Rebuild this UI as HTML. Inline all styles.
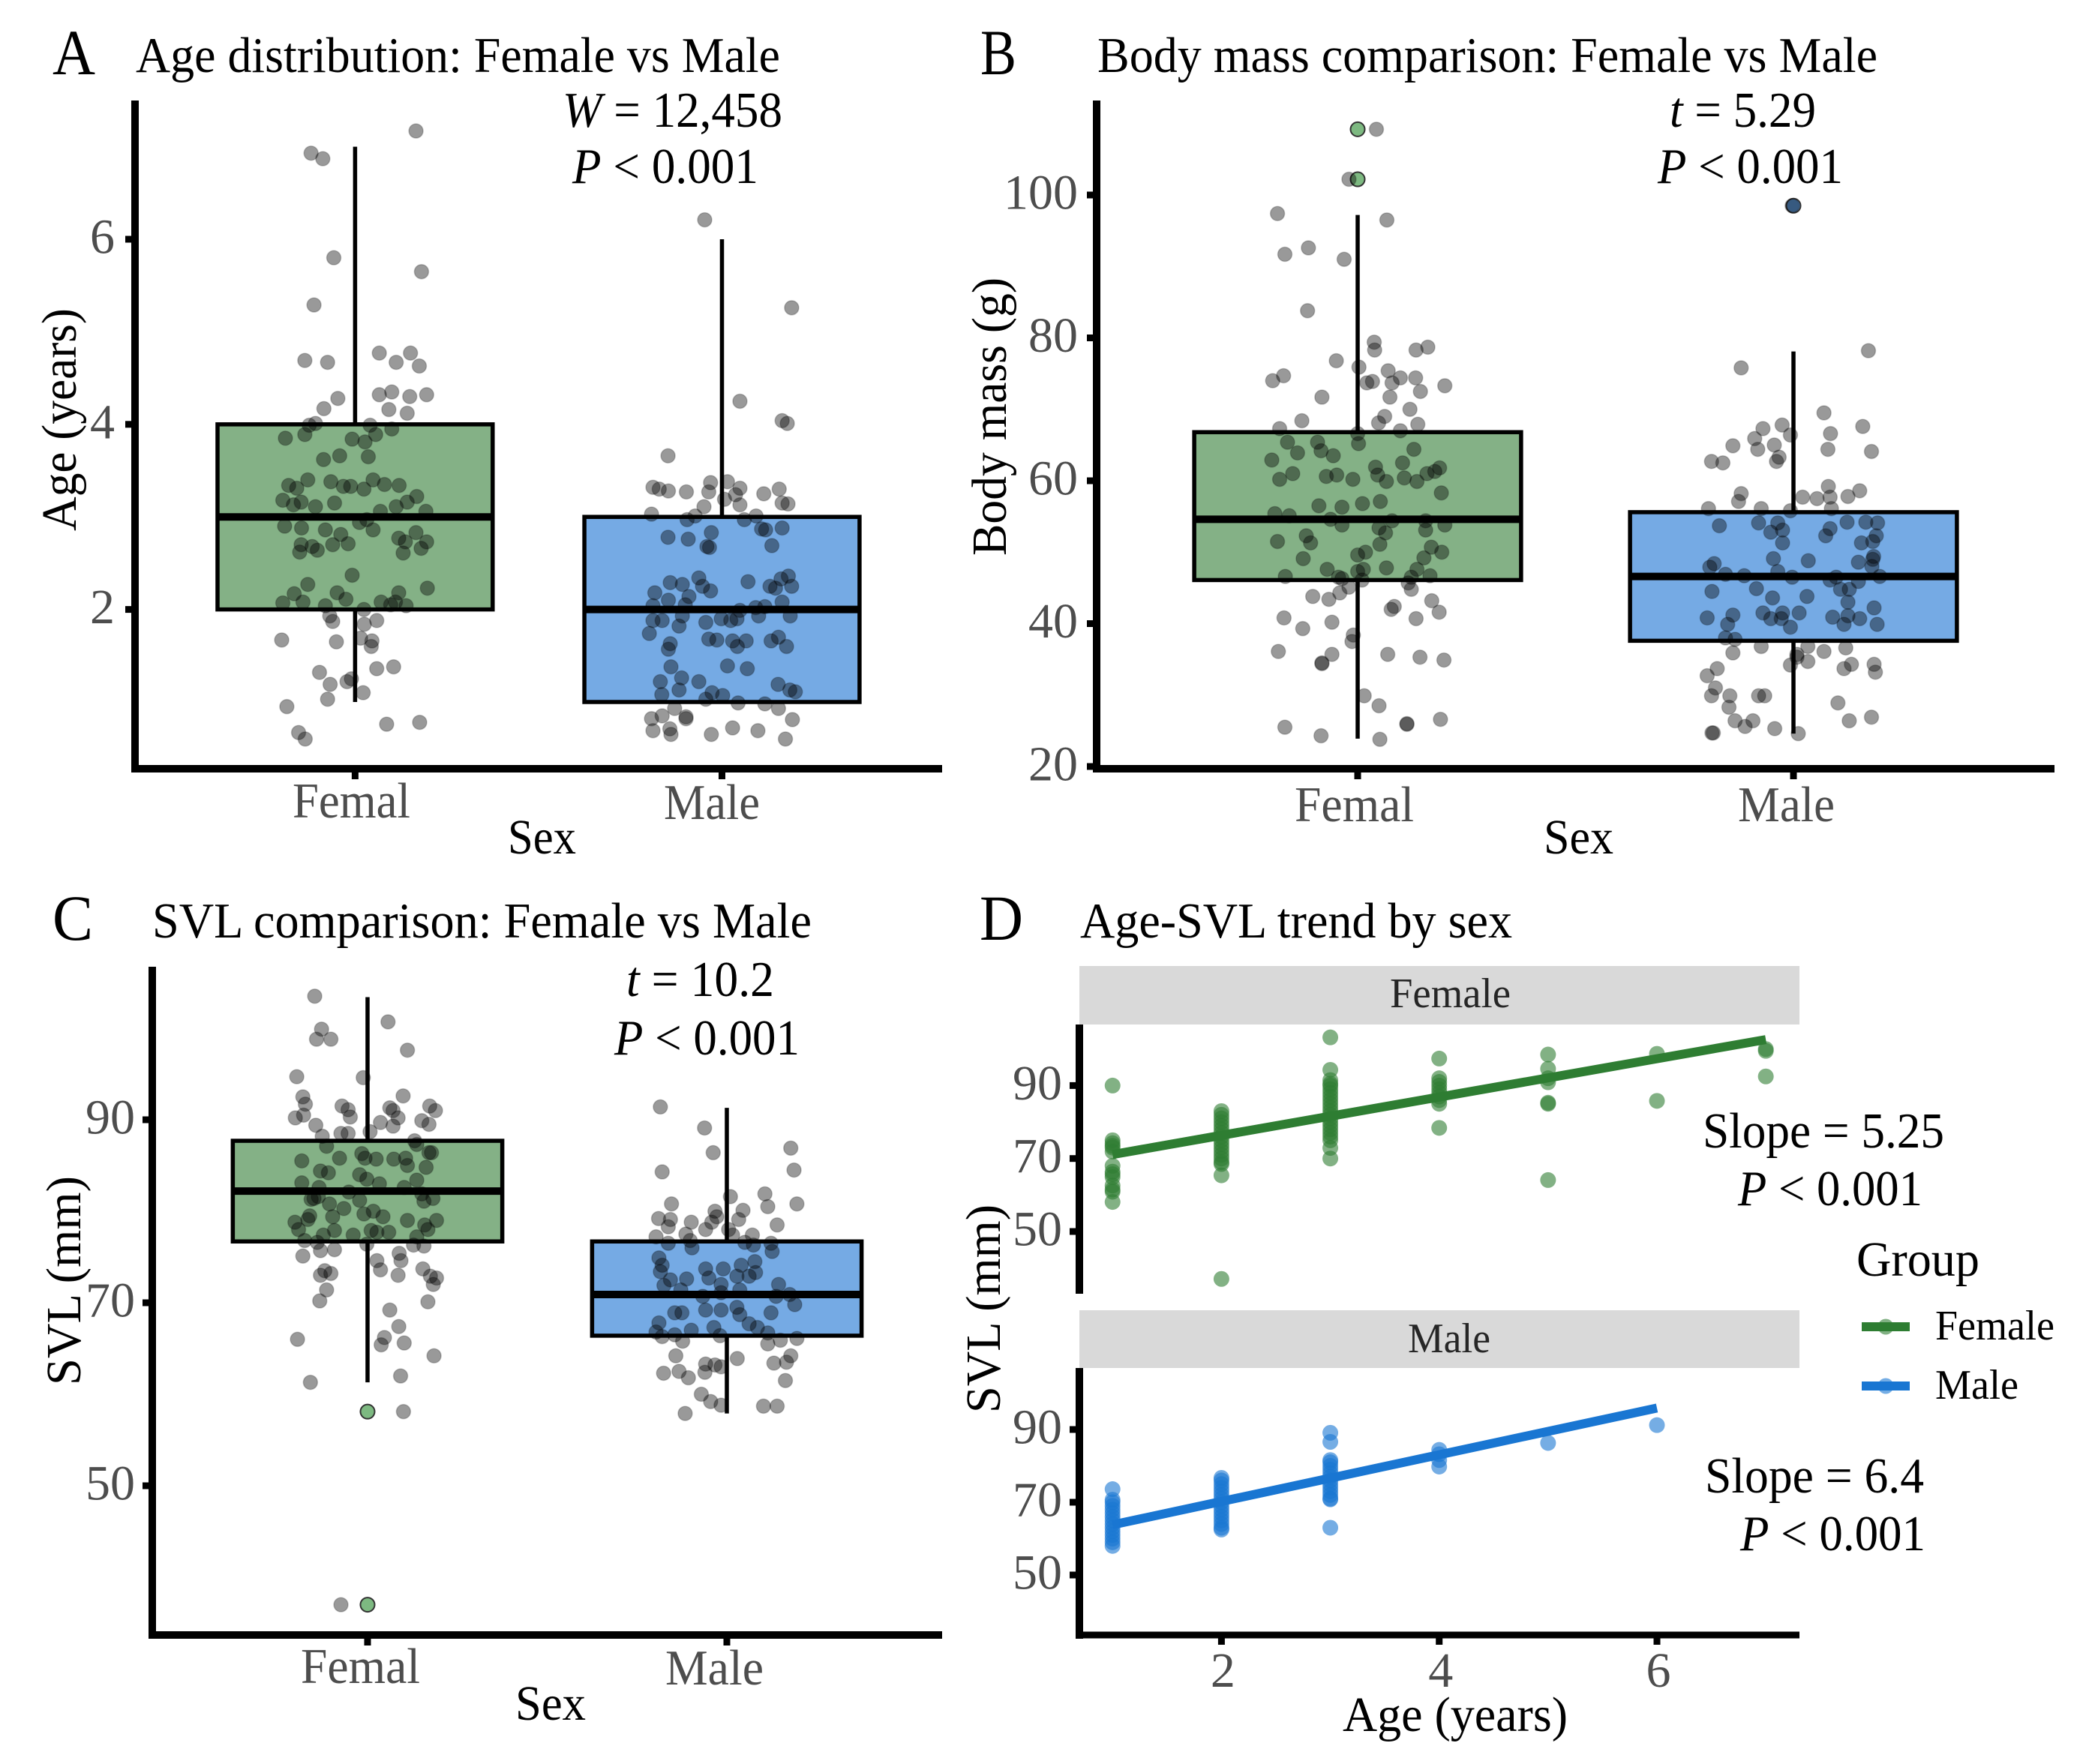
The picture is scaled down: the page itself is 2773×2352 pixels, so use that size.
<!DOCTYPE html>
<html lang="en">
<head>
<meta charset="utf-8">
<title>Sex comparisons: age, body mass and SVL</title>
<style>
html,body{margin:0;padding:0;background:#fff}
svg{display:block;font-family:"Liberation Serif","DejaVu Serif",serif}
.title{font-size:67px;fill:#000}
.tag{font-size:86px;fill:#000}
.stat{font-size:67px;fill:#000}
.cat{font-size:67px;fill:#4d4d4d}
.axt{font-size:66px;fill:#000}
.strip{font-size:56px;fill:#262626}
.leg{font-size:56px;fill:#000}
.tick{font-size:66px;fill:#4d4d4d}
</style>
</head>
<body>
<svg id="fig" xmlns="http://www.w3.org/2000/svg" width="2773" height="2352" viewBox="0 0 2773 2352">
<rect width="2773" height="2352" fill="#fff"/>

<g id="panelA"></g>
<g id="panelB"></g>
<g id="panelC"></g>
<g id="panelD"></g>

<!-- Panel A text -->
<text class="tag" x="70" y="99" textLength="57" lengthAdjust="spacingAndGlyphs">A</text>
<text class="title" x="181" y="96" textLength="859" lengthAdjust="spacingAndGlyphs">Age distribution: Female vs Male</text>
<text class="stat" x="750" y="169" textLength="293" lengthAdjust="spacingAndGlyphs"><tspan font-style="italic">W</tspan> = 12,458</text>
<text class="stat" x="763" y="244" textLength="248" lengthAdjust="spacingAndGlyphs"><tspan font-style="italic">P</tspan> &lt; 0.001</text>
<text class="cat" x="390" y="1090" textLength="157" lengthAdjust="spacingAndGlyphs">Femal</text>
<text class="cat" x="885" y="1092" textLength="128" lengthAdjust="spacingAndGlyphs">Male</text>
<text class="axt" x="677" y="1138" textLength="91" lengthAdjust="spacingAndGlyphs">Sex</text>
<text class="axt" transform="translate(101,708) rotate(-90)" textLength="297" lengthAdjust="spacingAndGlyphs">Age (years)</text>

<!-- Panel B text -->
<text class="tag" x="1307" y="99" textLength="48" lengthAdjust="spacingAndGlyphs">B</text>
<text class="title" x="1463" y="96" textLength="1040" lengthAdjust="spacingAndGlyphs">Body mass comparison: Female vs Male</text>
<text class="stat" x="2226" y="169" textLength="195" lengthAdjust="spacingAndGlyphs"><tspan font-style="italic">t</tspan> = 5.29</text>
<text class="stat" x="2210" y="244" textLength="247" lengthAdjust="spacingAndGlyphs"><tspan font-style="italic">P</tspan> &lt; 0.001</text>
<text class="cat" x="1726" y="1095" textLength="159" lengthAdjust="spacingAndGlyphs">Femal</text>
<text class="cat" x="2317" y="1095" textLength="129" lengthAdjust="spacingAndGlyphs">Male</text>
<text class="axt" x="2058" y="1138" textLength="93" lengthAdjust="spacingAndGlyphs">Sex</text>
<text class="axt" transform="translate(1341,741) rotate(-90)" textLength="371" lengthAdjust="spacingAndGlyphs">Body mass (g)</text>

<!-- Panel C text -->
<text class="tag" x="70" y="1253" textLength="54" lengthAdjust="spacingAndGlyphs">C</text>
<text class="title" x="203" y="1250" textLength="879" lengthAdjust="spacingAndGlyphs">SVL comparison: Female vs Male</text>
<text class="stat" x="835" y="1328" textLength="197" lengthAdjust="spacingAndGlyphs"><tspan font-style="italic">t</tspan> = 10.2</text>
<text class="stat" x="819" y="1406" textLength="247" lengthAdjust="spacingAndGlyphs"><tspan font-style="italic">P</tspan> &lt; 0.001</text>
<text class="cat" x="401" y="2244" textLength="159" lengthAdjust="spacingAndGlyphs">Femal</text>
<text class="cat" x="887" y="2246" textLength="131" lengthAdjust="spacingAndGlyphs">Male</text>
<text class="axt" x="687" y="2293" textLength="94" lengthAdjust="spacingAndGlyphs">Sex</text>
<text class="axt" transform="translate(107,1847) rotate(-90)" textLength="279" lengthAdjust="spacingAndGlyphs">SVL (mm)</text>

<!-- Panel D text -->
<text class="tag" x="1306" y="1253" textLength="58" lengthAdjust="spacingAndGlyphs">D</text>
<text class="title" x="1440" y="1250" textLength="576" lengthAdjust="spacingAndGlyphs">Age-SVL trend by sex</text>
<rect x="1439" y="1288" width="960" height="78" fill="#d9d9d9"/>
<rect x="1439" y="1747" width="960" height="77" fill="#d9d9d9"/>
<text class="strip" x="1853" y="1343" textLength="161" lengthAdjust="spacingAndGlyphs">Female</text>
<text class="strip" x="1877" y="1803" textLength="110" lengthAdjust="spacingAndGlyphs">Male</text>
<text class="stat" x="2270" y="1530" textLength="322" lengthAdjust="spacingAndGlyphs">Slope = 5.25</text>
<text class="stat" x="2317" y="1607" textLength="246" lengthAdjust="spacingAndGlyphs"><tspan font-style="italic">P</tspan> &lt; 0.001</text>
<text class="stat" x="2273" y="1990" textLength="292" lengthAdjust="spacingAndGlyphs">Slope = 6.4</text>
<text class="stat" x="2320" y="2067" textLength="247" lengthAdjust="spacingAndGlyphs"><tspan font-style="italic">P</tspan> &lt; 0.001</text>
<text class="axt" x="1790" y="2308" textLength="300" lengthAdjust="spacingAndGlyphs">Age (years)</text>
<text class="axt" transform="translate(1333,1884) rotate(-90)" textLength="278" lengthAdjust="spacingAndGlyphs">SVL (mm)</text>

<!-- Legend -->
<g>
  <text class="axt" x="2475" y="1701" textLength="164" lengthAdjust="spacingAndGlyphs">Group</text>
  <line x1="2482" y1="1769" x2="2546" y2="1769" stroke="#2e7d32" stroke-width="12"/>
  <circle cx="2514" cy="1769" r="10.5" fill="#2e7d32" fill-opacity="0.6"/>
  <text class="leg" x="2580" y="1786" textLength="159" lengthAdjust="spacingAndGlyphs">Female</text>
  <line x1="2482" y1="1848" x2="2546" y2="1848" stroke="#1976d2" stroke-width="12"/>
  <circle cx="2514" cy="1848" r="10.5" fill="#1976d2" fill-opacity="0.6"/>
  <text class="leg" x="2580" y="1865" textLength="111" lengthAdjust="spacingAndGlyphs">Male</text>
</g>
</svg>

<script>
// ===== Panel A data: age (years) =====
const ageTicks = [2, 4, 6];
const ageQ1 = [2, 1];
const ageMedian = [3, 2];
const ageQ3 = [4, 3];
const ageWhiskerLow = [1, 1];
const ageWhiskerHigh = [7, 6];
const ageFemaleValues = [6.93,6.87,7.17,5.80,5.65,5.29,4.69,4.67,4.77,4.77,4.67,4.63,4.28,4.32,4.35,4.30,4.32,4.17,4.16,4.12,3.99,4.01,3.99,3.95,3.85,3.89,3.84,3.81,3.89,3.62,3.66,3.65,3.40,3.38,3.34,3.31,3.33,3.33,3.40,3.35,3.34,3.30,3.22,3.18,3.13,3.16,3.11,3.15,3.16,3.11,3.06,3.06,2.97,2.94,2.86,2.90,2.88,2.86,2.81,2.77,2.83,2.73,2.73,2.70,2.68,2.70,2.71,2.62,2.64,2.61,2.66,2.37,2.27,2.17,2.18,2.11,2.23,2.18,2.08,2.08,2.07,2.08,2.04,2.05,2.04,2.00,1.93,1.87,1.88,1.84,1.67,1.65,1.69,1.66,1.60,1.32,1.36,1.38,1.19,1.22,1.25,1.10,1.03,0.95,0.67,0.60,0.76,0.78];
const ageFemaleJitter = [-120,-88,166,-58,181,-112,-137,-75,66,151,112,175,-47,66,100,149,195,-85,92,142,-125,-108,41,100,-190,-137,-8,27,56,-86,-42,36,-129,-66,-181,-159,-32,-12,49,80,120,24,168,-197,-168,-147,-108,-56,142,112,69,193,32,12,49,-192,-146,-81,-39,119,166,137,195,-147,-117,-61,-19,-151,-103,131,180,-8,-129,-166,-49,-25,197,119,71,110,-197,-142,139,97,-81,24,-69,-61,59,25,-200,-51,15,46,44,-97,59,105,-68,-22,-10,22,-75,-186,-154,-136,86,176];
const ageMaleValues = [6.21,5.26,4.25,4.04,4.01,3.66,3.32,3.30,3.28,3.27,3.37,3.38,3.31,3.30,3.25,3.27,3.24,3.19,3.13,3.11,3.15,3.14,3.03,2.97,3.01,2.97,3.01,2.87,2.86,2.88,2.83,2.78,2.76,2.68,2.67,2.69,2.36,2.33,2.25,2.25,2.23,2.30,2.34,2.29,2.27,2.25,2.20,2.18,2.14,2.10,2.04,2.05,2.08,2.03,2.02,1.99,1.88,1.88,1.93,1.82,1.86,1.90,1.88,1.90,1.93,1.93,1.74,1.68,1.67,1.66,1.60,1.66,1.66,1.70,1.60,1.63,1.57,1.39,1.36,1.38,1.26,1.22,1.22,1.13,1.08,1.03,1.10,1.07,1.19,1.13,1.11,0.99,0.98,0.93,0.93,0.82,0.85,0.84,0.82,0.81,0.69,0.71,0.65,0.65,0.72,0.69,0.60];
const ageMaleJitter = [-47,190,49,164,178,-147,-188,-171,-146,-97,-31,15,49,156,114,-36,37,7,49,-49,164,180,-192,-95,-73,61,93,108,119,164,-29,-147,-92,-41,-34,136,181,161,190,131,146,71,-63,-141,-108,-53,-31,-183,-90,-146,-188,-100,164,117,92,49,-188,-163,-108,-117,-44,-2,24,41,100,186,-198,-36,-14,29,42,66,134,154,176,-141,-146,15,69,-139,-110,-168,-63,-117,-164,-44,-27,2,153,185,200,44,117,154,-129,-192,-163,-98,-98,192,-188,-142,-139,-29,29,98,173];

// ===== Panel B data: body mass (g) =====
const massTicks = [20, 40, 60, 80, 100];
const massQ1 = [46.1, 37.6];
const massMedian = [54.6, 46.6];
const massQ3 = [66.8, 55.6];
const massWhiskerLow = [23.9, 24.6];
const massWhiskerHigh = [97.2, 78.1];
const massOutlierCategory = [1, 1, 2];
const massOutlierValues = [109.2, 102.2, 98.5];
const massFemaleValues = [109.2,102.2,97.4,96.5,91.7,92.6,91.0,83.8,79.4,78.3,78.3,78.7,76.8,75.9,75.4,74.7,74.0,74.4,74.4,73.7,73.9,73.7,73.3,72.5,71.7,71.7,70.0,69.0,68.4,68.1,67.3,67.9,66.6,67.0,65.4,65.4,65.2,64.2,64.4,63.9,63.5,62.9,62.5,61.9,61.8,61.0,60.2,60.6,60.8,60.8,60.4,61.0,61.3,60.2,59.9,59.9,58.3,56.5,56.3,56.8,57.1,55.4,55.1,54.6,53.8,54.4,54.4,53.8,53.1,53.4,52.7,52.3,51.5,51.3,51.1,50.7,50.0,49.6,50.0,49.1,49.2,47.6,47.8,47.6,47.3,47.6,46.6,46.7,46.5,46.3,46.1,46.5,45.7,45.1,44.8,43.8,43.4,44.3,43.2,42.4,42.0,41.6,40.8,40.2,40.7,39.3,38.4,37.5,36.1,35.7,35.7,35.3,34.9,34.5,34.4,29.9,28.5,25.5,24.3,23.8,26.0,25.9,26.6];
const massFemaleJitter = [43,-20,-184,67,-167,-113,-31,-115,38,39,134,161,-49,3,70,-170,-195,98,133,21,34,79,200,144,-82,74,120,62,-128,48,-179,138,0,98,-161,-92,2,-84,129,-138,-56,-197,103,41,188,-149,-179,-72,-48,46,107,159,177,-11,66,136,192,-89,-36,11,52,-190,-157,-62,-36,79,156,200,156,49,64,-118,-184,-108,51,169,193,0,18,-125,152,-70,66,13,0,136,-166,166,-44,-36,10,123,116,-20,123,-103,-66,-41,170,84,77,187,-169,-59,134,-126,-10,-13,-182,-59,69,143,198,-82,-82,15,49,-167,-84,51,113,113,190];
const massMaleValues = [98.5,75.8,78.2,69.5,67.6,67.8,67.3,66.4,66.6,65.9,65.0,64.9,64.4,64.4,64.1,63.3,62.7,62.7,62.5,59.2,58.6,58.2,57.7,57.5,57.7,57.8,57.1,56.1,56.1,55.8,56.1,54.1,54.1,54.2,54.2,54.1,53.7,52.8,53.1,53.3,52.3,52.3,51.3,51.3,51.5,49.4,49.0,49.1,48.8,48.6,47.9,48.4,48.0,46.9,46.7,47.3,46.5,46.6,46.1,46.5,45.9,44.9,44.8,44.8,44.5,43.8,43.6,43.0,41.2,41.5,41.5,41.5,42.2,40.8,40.7,40.7,40.9,41.1,40.7,39.9,39.9,39.9,39.5,38.0,37.8,36.8,36.8,36.6,35.9,35.7,36.1,35.3,34.7,34.2,33.7,34.3,34.3,33.2,33.7,32.7,31.0,29.9,29.9,29.9,29.9,28.3,28.9,26.4,26.4,25.6,26.4,26.9,25.3,24.7,24.7,24.6];
const massMaleJitter = [-3,-120,172,70,159,-26,-70,-7,85,-89,-44,-139,-82,79,179,-33,-39,-188,-162,80,152,-120,21,54,84,125,-126,-74,-195,-7,87,-80,-36,123,166,193,-170,-52,-25,84,74,190,156,-25,182,184,182,-46,34,149,-192,-182,180,-156,-113,-36,-3,198,84,98,149,-85,128,108,-187,31,-48,125,-139,-70,-25,13,185,-198,-52,-28,90,125,152,-151,116,192,-7,-156,-134,-74,33,120,-139,8,70,8,33,-7,116,133,185,188,-175,-198,-179,-188,-146,-80,-66,-148,102,-134,-93,-111,128,179,-43,-187,-184,11];

// ===== Panel C data: SVL (mm) =====
const svlTicks = [50, 70, 90];
const svlQ1 = [76.7, 66.4];
const svlMedian = [82.2, 70.9];
const svlQ3 = [87.7, 76.7];
const svlWhiskerLow = [61.3, 57.9];
const svlWhiskerHigh = [103.4, 91.3];
const svlOutlierCategory = [1, 1];
const svlOutlierValues = [58.1, 37.0];
const svlFemaleValues = [103.5,99.9,98.8,98.8,100.7,97.6,94.6,94.7,92.5,91.7,92.6,91.5,91.1,91.3,91.0,91.5,91.0,90.2,90.5,90.3,90.2,89.7,89.3,89.9,89.5,89.4,88.7,88.2,88.5,88.5,87.7,87.1,87.3,85.5,85.8,86.3,85.8,85.7,85.7,85.8,86.4,86.4,85.0,84.8,84.4,84.2,84.0,83.5,83.0,83.1,82.6,83.4,82.6,82.1,81.6,81.4,81.3,81.2,81.9,81.4,81.1,80.8,80.3,80.0,79.5,79.7,79.4,79.4,78.8,79.1,79.0,78.5,79.0,78.0,77.9,77.9,77.7,77.7,78.0,77.4,77.4,77.2,76.8,76.6,76.4,76.3,76.2,75.7,75.8,75.4,74.6,75.1,74.6,73.6,73.5,73.2,73.0,73.7,73.0,72.9,72.7,72.0,71.4,70.2,70.1,69.2,67.4,66.0,66.2,65.4,65.6,64.2,61.3,62.0,58.1,37.0];
const svlFemaleJitter = [-147,-128,-142,-102,57,111,-12,-197,-180,-173,99,-71,-54,62,71,173,189,-201,-178,-48,85,36,71,151,171,-144,7,-126,-74,-54,131,-114,137,-183,-78,-16,-7,24,73,106,171,178,111,163,-131,-109,-22,-2,33,-183,102,137,-135,-52,-137,-149,-157,-22,151,182,157,-106,-66,16,-161,-10,43,-97,-202,-166,111,159,192,-192,-92,10,26,59,168,-123,-40,137,-175,-140,-2,128,157,-131,-92,88,93,-180,26,36,-119,-102,-131,154,85,175,192,183,-114,-133,168,62,87,-195,47,38,102,185,-159,92,100,-74];
const svlMaleValues = [91.4,89.1,86.4,86.9,84.3,84.5,81.6,81.9,80.8,80.8,80.0,80.1,80.5,79.2,79.1,79.4,79.1,78.8,78.8,78.3,78.0,78.5,78.0,77.2,77.5,77.4,77.4,76.5,76.8,76.0,76.6,76.3,76.5,75.6,74.9,74.1,73.7,73.7,74.1,74.5,73.4,72.7,72.6,72.9,72.9,73.3,72.5,71.9,72.0,72.0,71.4,70.7,71.4,70.7,70.9,71.1,69.2,69.2,69.5,68.9,68.9,68.9,68.7,69.8,67.8,67.3,67.7,67.3,66.7,66.8,66.5,67.0,66.3,65.8,66.4,65.5,65.9,66.1,64.2,64.2,63.9,63.3,63.2,63.0,63.4,63.5,62.3,62.5,61.8,62.4,61.5,60.0,59.2,58.8,58.7,58.7,57.9];
const svlMaleJitter = [-185,-62,-38,178,-180,187,10,106,195,-154,-33,45,114,-190,-157,-28,33,-42,-99,-163,-59,140,5,-197,-114,16,71,-163,-102,-97,50,74,123,126,-189,-180,-59,-10,40,78,-185,-50,-112,28,62,80,-157,-175,-16,144,-128,-67,36,137,175,-16,-59,-16,28,123,-145,-125,36,189,-189,-36,62,85,114,-197,-145,-99,-180,-123,-19,114,149,195,-142,178,29,-59,-33,-16,131,166,-176,-133,-107,-61,163,-71,-45,-16,102,140,-116];

// ===== Panel D data: SVL vs age by sex =====
const trendXTicks = [2, 4, 6];
const trendYTicks = [50, 70, 90];
const femaleAges = [1,1,1,1,1,1,1,1,1,1,1,1,1,1,2,2,2,2,2,2,2,2,2,2,2,2,2,2,2,2,2,2,3,3,3,3,3,3,3,3,3,3,3,3,3,3,3,3,3,3,3,3,3,3,4,4,4,4,4,4,4,4,4,4,5,5,5,5,5,5,5,6,6,7,7,7];
const femaleSvl = [90,75,74.2,73,71.9,73.5,68,66.4,65.7,64.9,62.6,61.5,60.9,58.1,37,65.4,83,82,81,80,79,78,77,76,75,74,73,72,71,70,69,68.5,103.2,94.3,91.5,90.5,90,89,88,87,86,85,84,83,82,81,80,79,78,77,76,75,72.9,70,97.4,92,91,90,89,88,87,86,85,78.4,98.5,94.6,92,90.9,85.3,85,64.1,98.7,85.8,100,99.5,92.5];
const femaleFitAges = [1, 7];
const femaleFitSvl = [71.1, 102.6];
const maleAges = [1,1,1,1,1,1,1,1,1,1,1,1,1,1,1,2,2,2,2,2,2,2,2,2,2,2,2,2,2,2,2,3,3,3,3,3,3,3,3,3,3,3,3,3,3,3,3,4,4,4,4,5,6];
const maleSvl = [73.6,70.7,70,69,68,67,66,65,64,63,62,61,60,59,58,76.7,76,75,74,73,72,71,70,69,68,67,66,65,64,63,62.5,89.1,86.6,81.6,81,80,79,78,77,76,75,74,73,72,71,70.8,63,84.4,83.2,81.6,79.8,86.3,91.2];
const maleFitAges = [1, 6];
const maleFitSvl = [63.8, 95.9];

// ===== Drawing helpers =====
const SVGNS = 'http://www.w3.org/2000/svg';
function linear(d0, d1, r0, r1) {
  return function (v) { return r0 + (v - d0) * (r1 - r0) / (d1 - d0); };
}
function make(parent, tag, props) {
  const el = document.createElementNS(SVGNS, tag);
  for (const k in props) el.setAttribute(k, props[k]);
  parent.appendChild(el);
  return el;
}
function drawAxes(g, o) {
  const yAxis = make(g, 'line', {x1:o.left, y1:o.top, x2:o.left, y2:o.bottom + o.lw/2, stroke:'#000', 'stroke-width':o.lw});
  
  
  o.yTicks.forEach(function (t) {
    const y = o.y(t);
    const mark = make(g, 'line', {x1:o.left - 13, y1:y, x2:o.left, y2:y, stroke:'#000', 'stroke-width':9});
    
    
    const lab = make(g, 'text', {x:o.labelRight, y:y + 18.5, 'text-anchor':'end', class:'tick'});
    
    
    lab.textContent = t;
  });
}
function drawXAxis(g, o) {
  const xAxis = make(g, 'line', {x1:o.left - o.lw/2, y1:o.bottom, x2:o.right, y2:o.bottom, stroke:'#000', 'stroke-width':o.lw});
  
  
}
function drawBoxes(g, o, st) {
  const fills = ['#84b186', '#75aae4'];
  const halfBox = 0.375;
  [1, 2].forEach(function (cat, i) {
    const cx = o.x(cat);
    const tick = make(g, 'line', {x1:cx, y1:o.bottom, x2:cx, y2:o.bottom + 14, stroke:'#000', 'stroke-width':9});
    
    
    const wh = make(g, 'line', {x1:cx, y1:o.y(st.high[i]), x2:cx, y2:o.y(st.low[i]), stroke:'#000', 'stroke-width':5.5});
    
    
    const rect = make(g, 'rect', {x:o.x(cat - halfBox), y:o.y(st.q3[i]), width:o.x(cat + halfBox) - o.x(cat - halfBox), height:o.y(st.q1[i]) - o.y(st.q3[i]), fill:fills[i], stroke:'#000', 'stroke-width':5.5});
    
    
    const med = make(g, 'line', {x1:o.x(cat - halfBox), y1:o.y(st.med[i]), x2:o.x(cat + halfBox), y2:o.y(st.med[i]), stroke:'#000', 'stroke-width':10});
    
    
  });
}
function drawOutliers(g, o, cats, vals) {
  const fills = ['#7db981', '#5d97d6'];
  vals.forEach(function (v, i) {
    const c = make(g, 'circle', {cx:o.x(cats[i]), cy:o.y(v), r:9.5, fill:fills[cats[i] - 1], stroke:'#333', 'stroke-width':2});
    
    
  });
}
function drawJitter(g, o, cat, vals, jitter) {
  vals.forEach(function (v, i) {
    const c = make(g, 'circle', {cx:o.x(cat + jitter[i] / 1000), cy:o.y(v), r:9.5, fill:'#000', 'fill-opacity':0.4, stroke:'#000', 'stroke-opacity':0.2, 'stroke-width':1.5});
    
    
  });
}

// ===== Panel A =====
(function () {
  const g = document.getElementById('panelA');
  const o = {left:180, top:134, bottom:1025, right:1256, lw:10, labelRight:153, yTicks:ageTicks,
             x:linear(1, 2, 473.4, 962.5), y:linear(2, 6, 812.6, 319)};
  drawAxes(g, o);
  drawBoxes(g, o, {q1:ageQ1, med:ageMedian, q3:ageQ3, low:ageWhiskerLow, high:ageWhiskerHigh});
  drawXAxis(g, o);
  drawJitter(g, o, 1, ageFemaleValues, ageFemaleJitter);
  drawJitter(g, o, 2, ageMaleValues, ageMaleJitter);
})();

// ===== Panel B =====
(function () {
  const g = document.getElementById('panelB');
  const o = {left:1462, top:134, bottom:1025, right:2739, lw:10, labelRight:1437, yTicks:massTicks,
             x:linear(1, 2, 1810, 2391), y:linear(20, 100, 1022, 260)};
  drawAxes(g, o);
  drawBoxes(g, o, {q1:massQ1, med:massMedian, q3:massQ3, low:massWhiskerLow, high:massWhiskerHigh});
  drawXAxis(g, o);
  drawOutliers(g, o, massOutlierCategory, massOutlierValues);
  drawJitter(g, o, 1, massFemaleValues, massFemaleJitter);
  drawJitter(g, o, 2, massMaleValues, massMaleJitter);
})();

// ===== Panel C =====
(function () {
  const g = document.getElementById('panelC');
  const o = {left:203, top:1289, bottom:2180, right:1256, lw:10, labelRight:180, yTicks:svlTicks,
             x:linear(1, 2, 490, 969), y:linear(50, 90, 1981, 1493)};
  drawAxes(g, o);
  drawBoxes(g, o, {q1:svlQ1, med:svlMedian, q3:svlQ3, low:svlWhiskerLow, high:svlWhiskerHigh});
  drawXAxis(g, o);
  drawOutliers(g, o, svlOutlierCategory, svlOutlierValues);
  drawJitter(g, o, 1, svlFemaleValues, svlFemaleJitter);
  drawJitter(g, o, 2, svlMaleValues, svlMaleJitter);
})();

// ===== Panel D =====
(function () {
  const g = document.getElementById('panelD');
  const x = linear(2, 6, 1628.4, 2209);
  const facets = [
    {top:1366, bottom:1720, y:linear(50, 90, 1642, 1447.4), ages:femaleAges, svl:femaleSvl, fitA:femaleFitAges, fitS:femaleFitSvl, color:'#2e7d32'},
    {top:1824, bottom:2180, y:linear(50, 90, 2100, 1906), ages:maleAges, svl:maleSvl, fitA:maleFitAges, fitS:maleFitSvl, color:'#1976d2'}
  ];
  facets.forEach(function (f) {
    drawAxes(g, {left:1439, top:f.top, bottom:f.bottom, lw:10, labelRight:1416, yTicks:trendYTicks, y:f.y});
    f.svl.forEach(function (v, i) {
      const c = make(g, 'circle', {cx:x(f.ages[i]), cy:f.y(v), r:10.5, fill:f.color, 'fill-opacity':0.6});
      
      
    });
    const fit = make(g, 'line', {x1:x(f.fitA[0]), y1:f.y(f.fitS[0]), x2:x(f.fitA[1]), y2:f.y(f.fitS[1]), stroke:f.color, 'stroke-width':12});
    
    
  });
  const base = make(g, 'line', {x1:1434, y1:2180, x2:2399, y2:2180, stroke:'#000', 'stroke-width':9});
  
  
  trendXTicks.forEach(function (t) {
    const mark = make(g, 'line', {x1:x(t), y1:2180, x2:x(t), y2:2193, stroke:'#000', 'stroke-width':9});
    
    
    const lab = make(g, 'text', {x:x(t) + 2, y:2249, 'text-anchor':'middle', class:'tick'});
    
    
    lab.textContent = t;
  });
})();
</script>
</body>
</html>
